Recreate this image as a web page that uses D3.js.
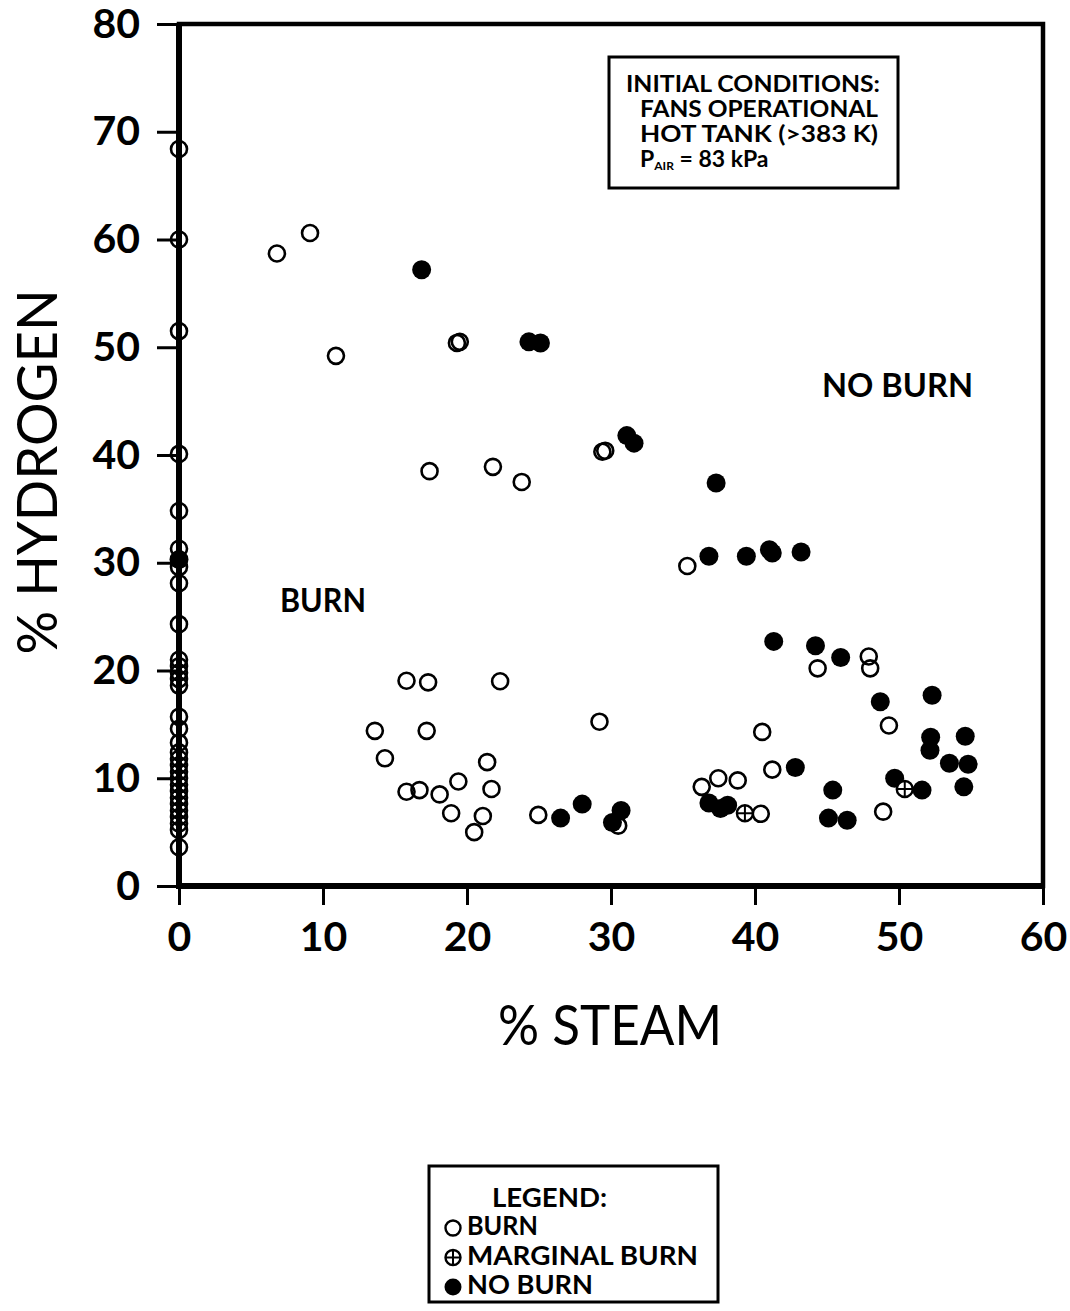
<!DOCTYPE html>
<html>
<head>
<meta charset="utf-8">
<script src="https://cdn.jsdelivr.net/npm/d3@7"></script>
<style>
  body { margin: 0; background: #fff; }
  svg { display: block; }
</style>
</head>
<body>
<script>
// tick values
var xTicks = [0, 10, 20, 30, 40, 50, 60];
var yTicks = [0, 10, 20, 30, 40, 50, 60, 70, 80];

// burn points sitting on the 0 % steam axis (hydrogen values)
var axisBurn = [68.4, 60, 51.5, 40.1, 34.8, 31.3, 29.6, 28.1, 24.3, 21.0, 20.4, 19.8,
  19.2, 18.6, 15.7, 14.6, 13.3, 12.4, 11.8, 11.2, 10.6, 10.0, 9.4, 8.8, 8.2, 7.6,
  7.0, 6.4, 5.8, 5.2, 3.6];

// [steam, hydrogen]
var burn = [
  [6.8, 58.7], [9.1, 60.6], [10.9, 49.2], [19.3, 50.4], [19.5, 50.5],
  [17.4, 38.5], [21.8, 38.9], [23.8, 37.5], [29.4, 40.3], [29.6, 40.4],
  [35.3, 29.7], [15.8, 19.05], [17.3, 18.9], [22.3, 19.0], [29.2, 15.25],
  [13.6, 14.4], [17.2, 14.4], [14.3, 11.85], [21.4, 11.5], [15.8, 8.75],
  [16.7, 8.9], [18.1, 8.5], [19.4, 9.7], [21.7, 9.0], [18.9, 6.75],
  [21.1, 6.5], [20.5, 5.0], [24.95, 6.6], [30.5, 5.6], [40.5, 14.3],
  [41.2, 10.8], [36.3, 9.2], [37.45, 10.0], [38.8, 9.8], [40.4, 6.7],
  [44.35, 20.2], [47.9, 21.3], [48.0, 20.2], [49.3, 14.9], [48.9, 6.9]
];

var noBurn = [
  [0, 30.3], [16.85, 57.2], [24.3, 50.5], [25.1, 50.4], [31.1, 41.8], [31.6, 41.1],
  [37.3, 37.4], [36.8, 30.6], [39.4, 30.6], [41.0, 31.2], [41.2, 30.9],
  [43.2, 31.0], [41.3, 22.7], [44.2, 22.3], [45.95, 21.2], [48.7, 17.1],
  [52.3, 17.7], [52.2, 13.8], [52.15, 12.6], [54.6, 13.9], [53.5, 11.4],
  [54.8, 11.3], [54.5, 9.2], [42.8, 11.0], [36.8, 7.7], [37.6, 7.2],
  [38.1, 7.5], [45.4, 8.9], [45.1, 6.3], [46.4, 6.1], [49.7, 10.0],
  [51.6, 8.9], [26.5, 6.3], [28.0, 7.6], [30.7, 7.0], [30.1, 5.9]
];

var marginal = [[39.3, 6.75], [50.4, 9.0]];

var conditions = ['INITIAL CONDITIONS:', 'FANS OPERATIONAL', 'HOT TANK (>383 K)'];

var width = 1070, height = 1311;
var margin = {left: 179, right: 27, top: 24, bottom: 425};

var svg = d3.select('body').append('svg')
  .attr('width', width)
  .attr('height', height);

var x = d3.scaleLinear().domain([0, 60]).range([margin.left, width - margin.right]);
var y = d3.scaleLinear().domain([0, 80]).range([height - margin.bottom, margin.top]);

var font = 'Lato, "Open Sans", sans-serif';

// axes
var yAxis = svg.append('g')
  .attr('transform', 'translate(' + x(0) + ',0)')
  .call(d3.axisLeft(y).tickValues(yTicks).tickSize(22).tickSizeOuter(0).tickPadding(17));
var xAxis = svg.append('g')
  .attr('transform', 'translate(0,' + y(0) + ')')
  .call(d3.axisBottom(x).tickValues(xTicks).tickSize(19).tickSizeOuter(0).tickPadding(17));

[xAxis, yAxis].forEach(function(g) {
  g.select('.domain').remove();
  g.selectAll('line').attr('stroke', '#000').attr('stroke-width', 3);
  g.selectAll('text')
    .style('font-family', font)
    .style('font-size', '41px')
    .style('font-weight', 'bold')
    .attr('fill', '#000');
});

// frame, left and bottom edges a bit heavier
svg.append('rect')
  .attr('x', x(0)).attr('y', y(80))
  .attr('width', x(60) - x(0)).attr('height', y(0) - y(80))
  .attr('fill', 'none').attr('stroke', '#000').attr('stroke-width', 4.5);
svg.append('path')
  .attr('d', 'M' + x(0) + ',' + y(80) + 'V' + y(0) + 'H' + x(60))
  .attr('fill', 'none').attr('stroke', '#000').attr('stroke-width', 6);

// axis titles
svg.append('text')
  .attr('x', 610).attr('y', 1045)
  .attr('text-anchor', 'middle')
  .attr('textLength', 224).attr('lengthAdjust', 'spacingAndGlyphs')
  .style('font-family', font).style('font-size', '56px')
  .text('% STEAM');

svg.append('text')
  .attr('transform', 'translate(57,472) rotate(-90)')
  .attr('text-anchor', 'middle')
  .attr('textLength', 365).attr('lengthAdjust', 'spacingAndGlyphs')
  .style('font-family', font).style('font-size', '56px')
  .text('% HYDROGEN');

// markers
var marks = svg.append('g');

marks.selectAll('circle.axis')
  .data(axisBurn)
  .enter().append('circle')
  .attr('cx', x(0))
  .attr('cy', function(d) { return y(d); })
  .attr('r', 8)
  .attr('fill', 'none').attr('stroke', '#000').attr('stroke-width', 2.6);

marks.selectAll('circle.burn')
  .data(burn)
  .enter().append('circle')
  .attr('cx', function(d) { return x(d[0]); })
  .attr('cy', function(d) { return y(d[1]); })
  .attr('r', 8)
  .attr('fill', 'none').attr('stroke', '#000').attr('stroke-width', 2.6);

marks.selectAll('circle.noburn')
  .data(noBurn)
  .enter().append('circle')
  .attr('cx', function(d) { return x(d[0]); })
  .attr('cy', function(d) { return y(d[1]); })
  .attr('r', 9.5)
  .attr('fill', '#000');

function crossCircle(g, cx, cy, r) {
  g.append('circle').attr('cx', cx).attr('cy', cy).attr('r', r)
    .attr('fill', '#fff').attr('stroke', '#000').attr('stroke-width', 2.4);
  g.append('line').attr('x1', cx - r).attr('x2', cx + r).attr('y1', cy).attr('y2', cy)
    .attr('stroke', '#000').attr('stroke-width', 2);
  g.append('line').attr('x1', cx).attr('x2', cx).attr('y1', cy - r).attr('y2', cy + r)
    .attr('stroke', '#000').attr('stroke-width', 2);
}

marginal.forEach(function(d) { crossCircle(marks, x(d[0]), y(d[1]), 8); });

// region labels
svg.append('text').attr('x', 822).attr('y', 397)
  .attr('textLength', 151).attr('lengthAdjust', 'spacingAndGlyphs')
  .style('font-family', font).style('font-size', '33px').style('font-weight', 'bold')
  .text('NO BURN');
svg.append('text').attr('x', 280).attr('y', 612)
  .attr('textLength', 86).attr('lengthAdjust', 'spacingAndGlyphs')
  .style('font-family', font).style('font-size', '33px').style('font-weight', 'bold')
  .text('BURN');

// conditions box
svg.append('rect')
  .attr('x', 609).attr('y', 57).attr('width', 289).attr('height', 131)
  .attr('fill', '#fff').attr('stroke', '#000').attr('stroke-width', 3);

var condLen = [254, 238, 238];
var condX = [626, 640, 640];
conditions.forEach(function(t, i) {
  svg.append('text')
    .attr('x', condX[i]).attr('y', 92 + i * 25)
    .attr('textLength', condLen[i]).attr('lengthAdjust', 'spacingAndGlyphs')
    .style('font-family', font).style('font-size', '23px').style('font-weight', 'bold')
    .text(t);
});
var pair = svg.append('text')
  .attr('x', 640).attr('y', 167)
  .style('font-family', font).style('font-size', '23px').style('font-weight', 'bold');
pair.append('tspan').text('P');
pair.append('tspan').attr('dy', 3).style('font-size', '12px').text('AIR');
pair.append('tspan').attr('dy', -3).text(' = 83 kPa');

// legend
svg.append('rect')
  .attr('x', 429).attr('y', 1166).attr('width', 289).attr('height', 136)
  .attr('fill', '#fff').attr('stroke', '#000').attr('stroke-width', 3);

svg.append('text').attr('x', 492).attr('y', 1207)
  .attr('textLength', 115).attr('lengthAdjust', 'spacingAndGlyphs')
  .style('font-family', font).style('font-size', '26px').style('font-weight', 'bold')
  .text('LEGEND:');

var legendItems = [
  {label: 'BURN', len: 71, kind: 'burn'},
  {label: 'MARGINAL BURN', len: 231, kind: 'marginal'},
  {label: 'NO BURN', len: 126, kind: 'noburn'}
];
var legend = svg.append('g');
legendItems.forEach(function(d, i) {
  var cy = 1228 + i * 29.5;
  if (d.kind === 'burn') {
    legend.append('circle').attr('cx', 453).attr('cy', cy).attr('r', 7.5)
      .attr('fill', 'none').attr('stroke', '#000').attr('stroke-width', 2.4);
  } else if (d.kind === 'marginal') {
    crossCircle(legend, 453, cy, 7.5);
  } else {
    legend.append('circle').attr('cx', 453).attr('cy', cy).attr('r', 8.5).attr('fill', '#000');
  }
  legend.append('text').attr('x', 467).attr('y', cy + 7)
    .attr('textLength', d.len).attr('lengthAdjust', 'spacingAndGlyphs')
    .style('font-family', font).style('font-size', '26px').style('font-weight', 'bold')
    .text(d.label);
});
</script>
</body>
</html>
